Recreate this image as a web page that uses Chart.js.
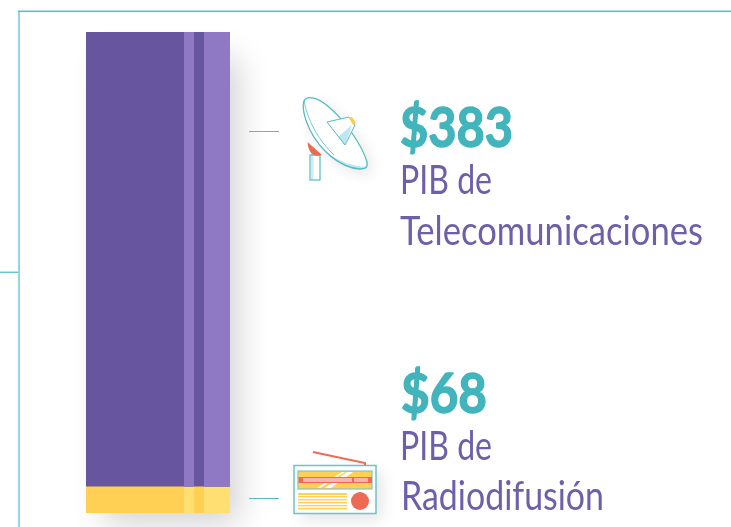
<!DOCTYPE html>
<html><head><meta charset="utf-8">
<style>html,body{margin:0;padding:0;background:#fff;overflow:hidden}canvas{display:block}</style>
<script src="https://cdn.jsdelivr.net/npm/chart.js@4"></script>
</head><body><canvas id="c" width="731" height="527"></canvas>
<script>
const categories = ["PIB"];
const radiodifusion = [68];
const telecomunicaciones = [383];
const valueLabels = ["$383", "$68"];
const line1 = ["PIB de", "PIB de"];
const line2 = ["Telecomunicaciones", "Radiodifusión"];

const TEAL="#55BCC4", TEXTP="#6F5FA9", BIG="#41B4BC";

function stripes(ctx, el, light, a){
  const l=el.x-el.width/2, w=el.width, area=a;
  const top=Math.min(el.y,el.base), bot=Math.min(Math.max(el.y,el.base),area.bottom);
  ctx.fillStyle=light;
  ctx.fillRect(l+w*98/144,top,w*10/144,bot-top);
  ctx.fillRect(l+w*118/144,top,w*26/144,bot-top);
}
function dishPath(c){
  c.beginPath();
  c.moveTo(304,101);
  c.bezierCurveTo(307,95,318,97,330,108);
  c.bezierCurveTo(345,121,362,145,367,162);
  c.bezierCurveTo(368,168,365,169,360,169);
  c.bezierCurveTo(340,168,320,150,310,130);
  c.bezierCurveTo(305,119,302,107,304,101);
  c.closePath();
}
function dish(c){
  c.save();
  // pole
  c.fillStyle="#fff";c.fillRect(310,153,10,27);
  c.fillStyle="#CDEBF4";c.fillRect(311,153,2.5,27);
  c.strokeStyle=TEAL;c.lineWidth=1.2;c.strokeRect(310,155,10,25);
  // joint
  c.fillStyle="#EE6A55";c.beginPath();c.moveTo(307.5,142);c.lineTo(322,155);c.quadraticCurveTo(309,159,307.5,142);c.closePath();c.fill();
  // dish
  c.shadowColor="rgba(0,0,0,.10)";c.shadowBlur=14;c.shadowOffsetX=5;c.shadowOffsetY=5;
  c.fillStyle="#fff";dishPath(c);c.fill();
  c.shadowColor="transparent";
  c.save();dishPath(c);c.clip();
  c.fillStyle="#BEE5F2";
  c.beginPath();c.moveTo(325,152);c.quadraticCurveTo(345,166,367,167);c.lineTo(367,172);c.lineTo(325,172);c.closePath();c.fill();
  c.restore();
  c.strokeStyle=TEAL;c.lineWidth=1.3;dishPath(c);c.stroke();
  c.lineWidth=.8;c.beginPath();c.moveTo(304,101);c.bezierCurveTo(308,122,320,142,334,155);c.stroke();
  // feed horn
  c.fillStyle="#fff";c.strokeStyle=TEAL;c.lineWidth=1;
  c.beginPath();c.moveTo(327,122);c.lineTo(349,117);c.lineTo(355,125);c.lineTo(345,145);c.closePath();c.fill();
  c.fillStyle="#BEE5F2";c.beginPath();c.moveTo(338,137);c.lineTo(352,125);c.lineTo(345,145);c.closePath();c.fill();
  c.beginPath();c.moveTo(327,122);c.lineTo(349,117);c.lineTo(355,125);c.lineTo(345,145);c.closePath();c.stroke();
  c.fillStyle="#FFC94F";c.beginPath();c.moveTo(349,118);c.lineTo(352,117);c.lineTo(356,123);c.lineTo(353,125);c.closePath();c.fill();
  c.restore();
}
function radio(c){
  c.save();
  c.shadowColor="rgba(0,0,0,.10)";c.shadowBlur=14;c.shadowOffsetX=6;c.shadowOffsetY=6;
  c.fillStyle="#fff";c.fillRect(294,465.5,82,48);
  c.shadowColor="transparent";
  c.strokeStyle="#6CC3C9";c.lineWidth=1.5;c.strokeRect(294,465.5,82,48);
  c.strokeStyle="#EE6A55";c.lineWidth=2;c.beginPath();c.moveTo(313,452);c.lineTo(365,463);c.lineTo(365,465.5);c.stroke();
  c.fillStyle="#FFD054";c.fillRect(298,471,74,18);
  c.strokeStyle="#7CC8C8";c.lineWidth=1.2;c.strokeRect(298,471,74,18);
  c.fillStyle="#fff";
  for(const [a,b] of [[317,325],[325,333]]){c.beginPath();c.moveTo(a,488);c.lineTo(a+(a==317?3:6),488);c.lineTo(b+20,472);c.lineTo(b+(a==317?17:14),472);c.closePath();c.fill();}
  c.fillStyle="#EE6A55";c.fillRect(298.5,477,73.5,6);
  c.fillStyle="#FBB3B0";c.fillRect(303,478,49,4);c.fillRect(354,478,14,4);
  c.fillStyle="#FFD054";
  for(const y of [493,496,499,502,505,508]) c.fillRect(298,y,49,y===493?2:1.4);
  c.fillStyle="#EE6A55";c.beginPath();c.arc(360,501,9,0,2*Math.PI);c.fill();
  c.restore();
}
function fitText(c,t,x,y,font,color,targetW,bold){
  c.save();c.font=font;c.fillStyle=color;c.textBaseline="alphabetic";c.textAlign="left";
  const sx=targetW/c.measureText(t).width;
  c.translate(x,y);c.scale(sx,1);c.fillText(t,0,0);
  if(bold){c.strokeStyle=color;c.lineWidth=bold;c.lineJoin="round";c.strokeText(t,0,0);}
  c.restore();
}
const art={
  id:"art",
  beforeDatasetsDraw(chart){
    const c=chart.ctx,a=chart.chartArea;
    c.save();
    c.shadowColor="rgba(0,0,0,.18)";c.shadowBlur=30;c.shadowOffsetX=8;c.shadowOffsetY=10;
    c.fillStyle="#fff";c.fillRect(a.left+10,a.top+16,a.width-10,a.height-16);
    c.restore();
  },
  afterDatasetsDraw(chart){
    const c=chart.ctx,a=chart.chartArea;
    c.save();
    c.beginPath();c.rect(a.left,a.top,a.width,a.height);c.clip();
    stripes(c,chart.getDatasetMeta(0).data[0],"#FFDF72",a);
    stripes(c,chart.getDatasetMeta(1).data[0],"#8F78C4",a);
    c.restore();
  },
  afterDraw(chart){
    const c=chart.ctx;
    c.save();
    c.fillStyle="#93D8DE";c.fillRect(18,11,2,516);
    c.fillStyle="#5CBFC4";c.fillRect(18,10.5,713,1.6);
    c.fillStyle="#55BFC8";c.fillRect(0,271.6,18,1.3);
    c.strokeStyle=TEAL;c.lineWidth=1.2;
    c.beginPath();
    c.moveTo(249,131.5);c.lineTo(279,131.5);
    c.moveTo(249,498.5);c.lineTo(279,498.5);
    c.stroke();
    c.restore();
    dish(c);radio(c);
    const big='700 56px Lato', reg='400 40px Lato';
    fitText(c,valueLabels[0],400,147,big,BIG,113,1.4);
    fitText(c,line1[0],400,193.5,reg,TEXTP,92);
    fitText(c,line2[0],400,245,reg,TEXTP,303);
    fitText(c,valueLabels[1],401,413,big,BIG,86,1.4);
    fitText(c,line1[1],400,459.5,reg,TEXTP,92);
    fitText(c,line2[1],401,510,reg,TEXTP,203);
  }
};
new Chart(document.getElementById("c"),{
  type:"bar",
  data:{labels:categories,datasets:[
    {label:"PIB de Radiodifusión",data:radiodifusion,backgroundColor:"#FFD054",barPercentage:1,categoryPercentage:1,borderWidth:0},
    {label:"PIB de Telecomunicaciones",data:telecomunicaciones,backgroundColor:"#67569F",barPercentage:1,categoryPercentage:1,borderWidth:0}
  ]},
  options:{
    responsive:false,animation:false,
    layout:{padding:{left:86,right:501,top:32,bottom:14}},
    plugins:{legend:{display:false},tooltip:{enabled:false}},
    scales:{
      x:{display:false,stacked:true},
      y:{display:false,stacked:true,min:46,max:451}
    }
  },
  plugins:[art]
});
</script></body></html>
